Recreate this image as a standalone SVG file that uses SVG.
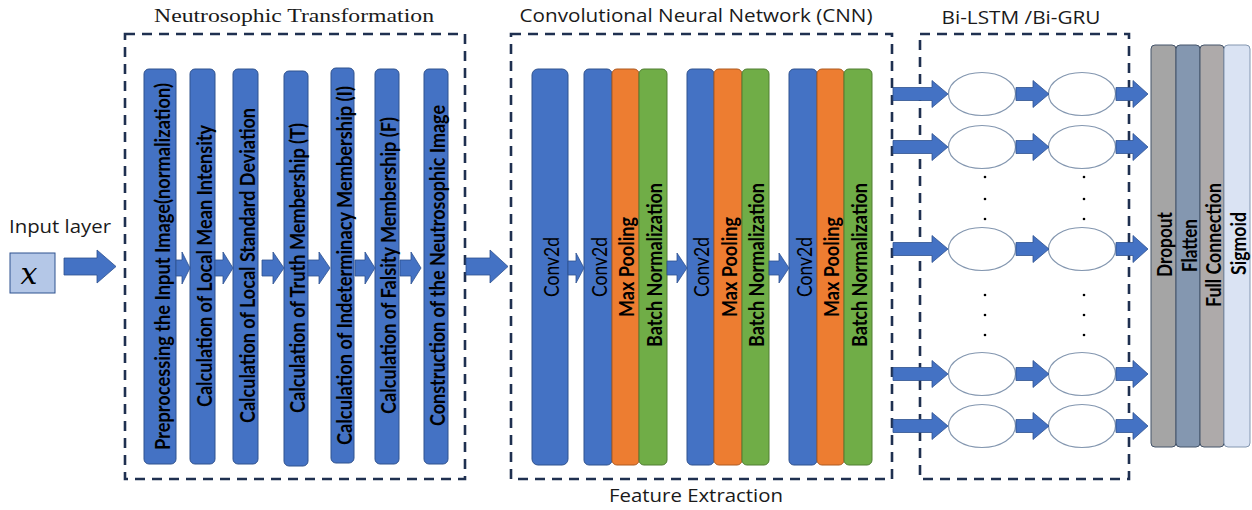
<svg xmlns="http://www.w3.org/2000/svg" width="1252" height="510" viewBox="0 0 1252 510">
<style>
.dash{fill:none;stroke:#1f3050;stroke-width:2.6;stroke-dasharray:10 7}
.ttl{font-family:"Open Sans","Noto Sans",sans-serif;font-size:18px;fill:#1a1a1a}
.serif{font-family:"Liberation Serif",serif;font-size:19px;fill:#1a1a1a}
.blue{fill:#4472c4;stroke:#2f528f;stroke-width:1}
.orange{fill:#ed7d31;stroke:#ae5a21;stroke-width:1}
.green{fill:#70ad47;stroke:#507e32;stroke-width:1}
.vt{font-family:"Lato","Open Sans",sans-serif;font-size:21px;font-weight:700;fill:#000;text-anchor:middle;dominant-baseline:central}
.vr{font-family:"Lato","Open Sans",sans-serif;font-size:21px;fill:#000;text-anchor:middle;dominant-baseline:central}
.arr{fill:#4472c4;stroke:#2f528f;stroke-width:0.8}
.ell{fill:#fff;stroke:#8497b0;stroke-width:1.2}
.dot{fill:#000}
</style>

<!-- Titles -->
<text class="serif" x="294" y="22" text-anchor="middle" textLength="280" lengthAdjust="spacingAndGlyphs">Neutrosophic Transformation</text>
<text class="ttl" x="696" y="22" text-anchor="middle" textLength="353" lengthAdjust="spacingAndGlyphs">Convolutional Neural Network (CNN)</text>
<text class="ttl" x="1021" y="24" text-anchor="middle" textLength="159" lengthAdjust="spacingAndGlyphs">Bi-LSTM /Bi-GRU</text>
<text class="ttl" x="696" y="502" text-anchor="middle" textLength="174" lengthAdjust="spacingAndGlyphs">Feature Extraction</text>

<!-- Dashed boxes -->
<rect class="dash" x="125" y="34" width="340" height="445"/>
<rect class="dash" x="511" y="34" width="381" height="445"/>
<rect class="dash" x="920" y="34" width="209" height="445"/>

<!-- Input -->
<g id="input">
<text class="ttl" x="9" y="233" textLength="102" lengthAdjust="spacingAndGlyphs">Input layer</text>
<rect x="10" y="253" width="45" height="40" fill="#b4c7e7" stroke="#2f528f" stroke-width="1"/>
<text x="29" y="284" font-family="DejaVu Serif,serif" font-style="italic" font-size="30" text-anchor="middle" fill="#000">x</text>
</g>

<!-- Neutrosophic bars -->
<g id="n1"><rect class="blue" x="144" y="69" width="32" height="395" rx="5"/><text class="vt" transform="translate(161,266.5) rotate(-90)" textLength="367" lengthAdjust="spacingAndGlyphs">Preprocessing the Input Image(normalization)</text></g>
<g id="n2"><rect class="blue" x="190" y="69" width="25" height="395" rx="5"/><text class="vt" transform="translate(203,266) rotate(-90)" textLength="282" lengthAdjust="spacingAndGlyphs">Calculation of Local Mean Intensity</text></g>
<g id="n3"><rect class="blue" x="233" y="69" width="25" height="395" rx="5"/><text class="vt" transform="translate(246,265.5) rotate(-90)" textLength="315" lengthAdjust="spacingAndGlyphs">Calculation of Local Standard Deviation</text></g>
<g id="n4"><rect class="blue" x="284" y="71" width="24" height="395" rx="5"/><text class="vt" transform="translate(296.5,268) rotate(-90)" textLength="290" lengthAdjust="spacingAndGlyphs">Calculation of Truth Membership (T)</text></g>
<g id="n5"><rect class="blue" x="331" y="68" width="23" height="395" rx="5"/><text class="vt" transform="translate(343,265.5) rotate(-90)" textLength="359" lengthAdjust="spacingAndGlyphs">Calculation of Indeterminacy Membership (I)</text></g>
<g id="n6"><rect class="blue" x="375" y="69" width="24" height="395" rx="5"/><text class="vt" transform="translate(387.5,265.5) rotate(-90)" textLength="297" lengthAdjust="spacingAndGlyphs">Calculation of Falsity Membership (F)</text></g>
<g id="n7"><rect class="blue" x="424" y="69" width="24" height="395" rx="5"/><text class="vt" transform="translate(436.5,265.5) rotate(-90)" textLength="321" lengthAdjust="spacingAndGlyphs">Construction of the Neutrosophic Image</text></g>

<!-- CNN bars -->
<g id="c1"><rect class="blue" x="532" y="69" width="36" height="396" rx="6"/><text class="vr" transform="translate(550,267) rotate(-90)" textLength="60" lengthAdjust="spacingAndGlyphs">Conv2d</text></g>
<g id="c2">
<rect class="blue" x="584" y="69" width="28" height="396" rx="5"/>
<rect class="orange" x="612" y="69" width="27" height="396" rx="5"/>
<rect class="green" x="639" y="69" width="28" height="396" rx="5"/>
<text class="vr" transform="translate(598,267) rotate(-90)" textLength="60" lengthAdjust="spacingAndGlyphs">Conv2d</text>
<text class="vt" transform="translate(625.5,267) rotate(-90)" textLength="100" lengthAdjust="spacingAndGlyphs">Max Pooling</text>
<text class="vt" transform="translate(653,265) rotate(-90)" textLength="164" lengthAdjust="spacingAndGlyphs">Batch Normalization</text>
</g>
<g id="c3">
<rect class="blue" x="687" y="69" width="27" height="396" rx="5"/>
<rect class="orange" x="714" y="69" width="28" height="396" rx="5"/>
<rect class="green" x="742" y="69" width="27" height="396" rx="5"/>
<text class="vr" transform="translate(700.5,267) rotate(-90)" textLength="60" lengthAdjust="spacingAndGlyphs">Conv2d</text>
<text class="vt" transform="translate(728,267) rotate(-90)" textLength="100" lengthAdjust="spacingAndGlyphs">Max Pooling</text>
<text class="vt" transform="translate(755.5,265) rotate(-90)" textLength="164" lengthAdjust="spacingAndGlyphs">Batch Normalization</text>
</g>
<g id="c4">
<rect class="blue" x="789" y="69" width="28" height="396" rx="5"/>
<rect class="orange" x="817" y="69" width="27" height="396" rx="5"/>
<rect class="green" x="844" y="69" width="28" height="396" rx="5"/>
<text class="vr" transform="translate(803,267) rotate(-90)" textLength="60" lengthAdjust="spacingAndGlyphs">Conv2d</text>
<text class="vt" transform="translate(830.5,267) rotate(-90)" textLength="100" lengthAdjust="spacingAndGlyphs">Max Pooling</text>
<text class="vt" transform="translate(858,265) rotate(-90)" textLength="164" lengthAdjust="spacingAndGlyphs">Batch Normalization</text>
</g>

<!-- LSTM cells -->
<g id="lstm">
<ellipse class="ell" cx="982" cy="94" rx="33.5" ry="21.5"/><ellipse class="ell" cx="1082" cy="94" rx="33.5" ry="21.5"/>
<ellipse class="ell" cx="982" cy="147" rx="33.5" ry="21.5"/><ellipse class="ell" cx="1082" cy="147" rx="33.5" ry="21.5"/>
<ellipse class="ell" cx="982" cy="249" rx="33.5" ry="21.5"/><ellipse class="ell" cx="1082" cy="249" rx="33.5" ry="21.5"/>
<ellipse class="ell" cx="982" cy="374" rx="33.5" ry="21.5"/><ellipse class="ell" cx="1082" cy="374" rx="33.5" ry="21.5"/>
<ellipse class="ell" cx="982" cy="426" rx="33.5" ry="21.5"/><ellipse class="ell" cx="1082" cy="426" rx="33.5" ry="21.5"/>
<circle class="dot" cx="985" cy="177" r="1.3"/><circle class="dot" cx="985" cy="199" r="1.3"/><circle class="dot" cx="985" cy="219" r="1.3"/>
<circle class="dot" cx="985" cy="295" r="1.3"/><circle class="dot" cx="985" cy="315" r="1.3"/><circle class="dot" cx="985" cy="335" r="1.3"/>
<circle class="dot" cx="1084" cy="177" r="1.3"/><circle class="dot" cx="1084" cy="199" r="1.3"/><circle class="dot" cx="1084" cy="219" r="1.3"/>
<circle class="dot" cx="1084" cy="295" r="1.3"/><circle class="dot" cx="1084" cy="315" r="1.3"/><circle class="dot" cx="1084" cy="335" r="1.3"/>
</g>

<!-- Output bars -->
<g id="o1"><rect x="1151" y="45" width="25" height="402" rx="4" fill="#a5a5a5" stroke="#44546a" stroke-width="1"/><text class="vt" transform="translate(1163.5,244.5) rotate(-90)" textLength="65" lengthAdjust="spacingAndGlyphs">Dropout</text></g>
<g id="o2"><rect x="1176" y="45" width="24" height="402" rx="4" fill="#8497b0" stroke="#44546a" stroke-width="1"/><text class="vt" transform="translate(1188,245.5) rotate(-90)" textLength="53" lengthAdjust="spacingAndGlyphs">Flatten</text></g>
<g id="o3"><rect x="1200" y="45" width="24" height="402" rx="4" fill="#aeaaaa" stroke="#44546a" stroke-width="1"/><text class="vt" transform="translate(1212.5,245) rotate(-90)" textLength="124" lengthAdjust="spacingAndGlyphs">Full Connection</text></g>
<g id="o4"><rect x="1224" y="45" width="26" height="402" rx="4" fill="#dae3f3" stroke="#8497b0" stroke-width="1"/><text class="vt" transform="translate(1237.5,243.5) rotate(-90)" textLength="63" lengthAdjust="spacingAndGlyphs">Sigmoid</text></g>

<!-- Connectors -->
<g id="connectors">
<path class="arr" d="M64 258 L97 258 L97 250 L116 266.5 L97 283 L97 275 L64 275 Z"/>
<path class="arr" d="M176 260 L182 260 L182 252 L190 268 L182 284 L182 276 L176 276 Z"/>
<path class="arr" d="M215 260 L223 260 L223 252 L233 268 L223 284 L223 276 L215 276 Z"/>
<path class="arr" d="M262 260 L273 260 L273 252 L284 268 L273 284 L273 276 L262 276 Z"/>
<path class="arr" d="M308 260 L319 260 L319 252 L330 268 L319 284 L319 276 L308 276 Z"/>
<path class="arr" d="M355 260 L365 260 L365 252 L375 268 L365 284 L365 276 L355 276 Z"/>
<path class="arr" d="M400 260 L411 260 L411 252 L421 268 L411 284 L411 276 L400 276 Z"/>
<path class="arr" d="M466 258 L490 258 L490 250 L508 266.5 L490 283 L490 275 L466 275 Z"/>
<path class="arr" d="M568 261 L576 261 L576 253 L584 268 L576 283 L576 275 L568 275 Z"/>
<path class="arr" d="M667 261 L677 261 L677 253 L687 268 L677 283 L677 275 L667 275 Z"/>
<path class="arr" d="M769 261 L779 261 L779 253 L789 268 L779 283 L779 275 L769 275 Z"/>
<!-- LSTM rows -->
<path class="arr" d="M893 87.5 L932 87.5 L932 80.5 L948 94 L932 107.5 L932 100.5 L893 100.5 Z"/>
<path class="arr" d="M1016 87.5 L1033 87.5 L1033 80.5 L1049 94 L1033 107.5 L1033 100.5 L1016 100.5 Z"/>
<path class="arr" d="M1116 87.5 L1133 87.5 L1133 80.5 L1148 94 L1133 107.5 L1133 100.5 L1116 100.5 Z"/>
<path class="arr" d="M893 140.5 L932 140.5 L932 133.5 L948 147 L932 160.5 L932 153.5 L893 153.5 Z"/>
<path class="arr" d="M1016 140.5 L1033 140.5 L1033 133.5 L1049 147 L1033 160.5 L1033 153.5 L1016 153.5 Z"/>
<path class="arr" d="M1116 140.5 L1133 140.5 L1133 133.5 L1148 147 L1133 160.5 L1133 153.5 L1116 153.5 Z"/>
<path class="arr" d="M893 242.5 L932 242.5 L932 235.5 L948 249 L932 262.5 L932 255.5 L893 255.5 Z"/>
<path class="arr" d="M1016 242.5 L1033 242.5 L1033 235.5 L1049 249 L1033 262.5 L1033 255.5 L1016 255.5 Z"/>
<path class="arr" d="M1116 242.5 L1133 242.5 L1133 235.5 L1148 249 L1133 262.5 L1133 255.5 L1116 255.5 Z"/>
<path class="arr" d="M893 367.5 L932 367.5 L932 360.5 L948 374 L932 387.5 L932 380.5 L893 380.5 Z"/>
<path class="arr" d="M1016 367.5 L1033 367.5 L1033 360.5 L1049 374 L1033 387.5 L1033 380.5 L1016 380.5 Z"/>
<path class="arr" d="M1116 367.5 L1133 367.5 L1133 360.5 L1148 374 L1133 387.5 L1133 380.5 L1116 380.5 Z"/>
<path class="arr" d="M893 419.5 L932 419.5 L932 412.5 L948 426 L932 439.5 L932 432.5 L893 432.5 Z"/>
<path class="arr" d="M1016 419.5 L1033 419.5 L1033 412.5 L1049 426 L1033 439.5 L1033 432.5 L1016 432.5 Z"/>
<path class="arr" d="M1116 419.5 L1133 419.5 L1133 412.5 L1148 426 L1133 439.5 L1133 432.5 L1116 432.5 Z"/>
</g>
</svg>
